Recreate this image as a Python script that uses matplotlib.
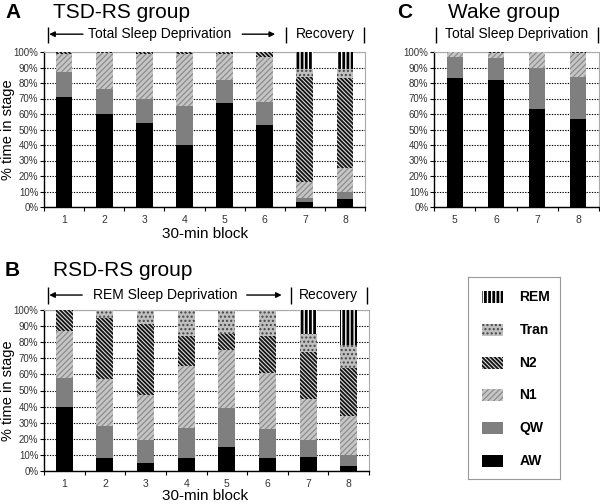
import numpy as np
import matplotlib
matplotlib.use("Agg")
import matplotlib.pyplot as plt
from matplotlib.patches import Rectangle

plt.rcParams['font.family'] = ['Liberation Sans', 'DejaVu Sans']

# ---------------- data (% time in stage) ----------------
blocks_AB = ['1', '2', '3', '4', '5', '6', '7', '8']
blocks_C = ['5', '6', '7', '8']
stages = ['AW', 'QW', 'N1', 'N2', 'Tran', 'REM']

A_AW = [71, 60, 54, 40, 67, 53, 3, 5]
A_QW = [16, 16, 16, 25, 15, 15, 3, 5]
A_N1 = [12, 23.5, 29, 33.5, 16.5, 29, 10, 15]
A_N2 = [1, 0.5, 1, 1.5, 1.5, 3, 68, 58]
A_Tran = [0, 0, 0, 0, 0, 0, 5, 6]
A_REM = [0, 0, 0, 0, 0, 0, 11, 11]

B_AW = [40, 8, 5, 8, 15, 8, 9, 3]
B_QW = [18, 20, 14, 19, 24, 18, 10, 7]
B_N1 = [29, 29, 28, 38, 36, 35, 26, 24]
B_N2 = [13, 38, 44, 19, 10, 23, 29, 30]
B_Tran = [0, 5, 9, 16, 15, 16, 11, 14]
B_REM = [0, 0, 0, 0, 0, 0, 15, 22]

C_AW = [83, 82, 63, 57]
C_QW = [14, 14, 27, 27]
C_N1 = [3, 3.5, 10, 15.5]
C_N2 = [0, 0.5, 0, 0.5]
C_Tran = [0, 0, 0, 0]
C_REM = [0, 0, 0, 0]

# ---------------- styles ----------------
STYLE = {
    'AW':   dict(facecolor='black', edgecolor='black', hatch=None, hlw=1.0),
    'QW':   dict(facecolor='#7f7f7f', edgecolor='#7f7f7f', hatch=None, hlw=1.0),
    'N1':   dict(facecolor='#c6c6c6', edgecolor='#8c8c8c', hatch='//////', hlw=0.9),
    'N2':   dict(facecolor='#d8d8d8', edgecolor='#111111', hatch='\\\\\\\\\\\\\\\\', hlw=1.3),
    'Tran': dict(facecolor='#c0c0c0', edgecolor='#444444', hatch='....', hlw=1.0),
    'REM':  dict(facecolor='white', edgecolor='black', hatch='||||', hlw=2.0),
}


def styled_bar(ax, x, h, bottom, width, stage):
    st = STYLE[stage]
    with plt.rc_context({'hatch.linewidth': st['hlw']}):
        bars = ax.bar(x, h, width, bottom=bottom, facecolor=st['facecolor'],
                      edgecolor=st['edgecolor'], hatch=st['hatch'], linewidth=0,
                      zorder=3)
    for b in bars:
        if hasattr(b, 'set_hatch_linewidth'):
            b.set_hatch_linewidth(st['hlw'])
    return bars


def panel(ax, labels, series, width=0.42):
    n = len(labels)
    x = np.arange(n)
    bottom = np.zeros(n)
    for stage in stages:
        vals = np.array(series[stage], dtype=float)
        styled_bar(ax, x, vals, bottom, width, stage)
        bottom += vals
    ax.set_xlim(-0.5, n - 0.5)
    ax.set_ylim(0, 100)
    ax.set_yticks(np.arange(0, 101, 10))
    ax.set_yticklabels([f"{v}%" for v in range(0, 101, 10)], fontsize=7, color='#333333')
    ax.set_xticks(x)
    ax.set_xticklabels(labels, fontsize=7.5, color='#333333')
    ax.set_xticks(np.arange(-0.5, n, 1.0), minor=True)
    ax.tick_params(axis='x', which='major', length=0, pad=6)
    ax.tick_params(axis='x', which='minor', length=3, direction='out', width=0.8)
    ax.tick_params(axis='y', length=3, direction='out', pad=1, width=0.8)
    ax.yaxis.grid(True, linestyle=(0, (1.2, 1.2)), color='black', linewidth=0.8, zorder=1)
    ax.set_axisbelow(True)
    for s in ['left', 'bottom']:
        ax.spines[s].set_color('black')
        ax.spines[s].set_linewidth(1.0)
    for s in ['top', 'right']:
        ax.spines[s].set_color('#aaaaaa')
        ax.spines[s].set_linewidth(0.8)


def vbar(ax, xd, y0, y1):
    ax.plot([xd, xd], [y0, y1], transform=ax.get_xaxis_transform(), color='black',
            lw=1.0, clip_on=False, solid_capstyle='butt')


def arrow(ax, x_from, x_to, y):
    ax.annotate('', xy=(x_to, y), xytext=(x_from, y),
                xycoords=ax.get_xaxis_transform(), textcoords=ax.get_xaxis_transform(),
                arrowprops=dict(arrowstyle='-|>', color='black', lw=1.0,
                                mutation_scale=8, shrinkA=0, shrinkB=0))


W, H = 600, 504
fig = plt.figure(figsize=(6, 5.04), dpi=100)

axA = fig.add_axes([44 / W, 1 - 207 / H, 321 / W, 155 / H])
axB = fig.add_axes([44 / W, 1 - 471 / H, 325 / W, 161 / H])
axC = fig.add_axes([434 / W, 1 - 207 / H, 165 / W, 155 / H])

panel(axA, blocks_AB, dict(AW=A_AW, QW=A_QW, N1=A_N1, N2=A_N2, Tran=A_Tran, REM=A_REM))
panel(axB, blocks_AB, dict(AW=B_AW, QW=B_QW, N1=B_N1, N2=B_N2, Tran=B_Tran, REM=B_REM))
panel(axC, blocks_C, dict(AW=C_AW, QW=C_QW, N1=C_N1, N2=C_N2, Tran=C_Tran, REM=C_REM), width=0.39)

# axis labels
axA.set_xlabel('30-min block', fontsize=11)
axA.xaxis.set_label_coords((205 - 44) / 321, -(234 - 207) / 155)
axA.xaxis.label.set_va('center')
axB.set_xlabel('30-min block', fontsize=11)
axB.xaxis.set_label_coords((205 - 44) / 325, -(496.5 - 471) / 161)
axB.xaxis.label.set_va('center')
for ax, w in ((axA, 321), (axB, 325)):
    ax.set_ylabel('% time in stage', fontsize=10.5)
    ax.yaxis.set_label_coords(-(44 - 1) / w, 0.5)
    ax.yaxis.label.set_va('top')

# ---- annotations panel A ----
yA = 1.115
vbar(axA, -0.4, 1.06, 1.16)
arrow(axA, 0.47, -0.37, yA)
axA.text(2.39, yA, 'Total Sleep Deprivation', transform=axA.get_xaxis_transform(),
         ha='center', va='center', fontsize=10)
arrow(axA, 4.44, 5.26, yA)
vbar(axA, 5.53, 1.06, 1.16)
axA.text(6.5, yA, 'Recovery', transform=axA.get_xaxis_transform(), ha='center', va='center', fontsize=10)
vbar(axA, 7.48, 1.06, 1.16)

# ---- annotations panel B ----
yB = 1.093
vbar(axB, -0.4, 1.04, 1.145)
arrow(axB, 0.44, -0.37, yB)
axB.text(2.49, yB, 'REM Sleep Deprivation', transform=axB.get_xaxis_transform(),
         ha='center', va='center', fontsize=10)
arrow(axB, 4.49, 5.35, yB)
vbar(axB, 5.57, 1.04, 1.145)
axB.text(6.5, yB, 'Recovery', transform=axB.get_xaxis_transform(), ha='center', va='center', fontsize=10)
vbar(axB, 7.45, 1.04, 1.145)

# ---- annotations panel C ----
vbar(axC, -0.45, 1.06, 1.16)
axC.text(1.5, yA, 'Total Sleep Deprivation', transform=axC.get_xaxis_transform(),
         ha='center', va='center', fontsize=10)
vbar(axC, 3.47, 1.06, 1.16)

# ---- titles ----
fig.text(5 / W, 1 - 12 / H, 'A', fontsize=15, fontweight='bold', va='center')
fig.text(53 / W, 1 - 12 / H, 'TSD-RS group', fontsize=15, va='center')
fig.text(5 / W, 1 - 270 / H, 'B', fontsize=15, fontweight='bold', va='center')
fig.text(53 / W, 1 - 270 / H, 'RSD-RS group', fontsize=15, va='center')
fig.text(397 / W, 1 - 12 / H, 'C', fontsize=15, fontweight='bold', va='center')
fig.text(448 / W, 1 - 12 / H, 'Wake group', fontsize=15, va='center')

# ---- legend box ----
axL = fig.add_axes([468 / W, 1 - 479 / H, 92 / W, 202 / H])
axL.set_xlim(0, 1)
axL.set_ylim(0, 1)
axL.set_xticks([])
axL.set_yticks([])
for s in axL.spines.values():
    s.set_color('#999999')
    s.set_linewidth(0.8)
leg_order = ['REM', 'Tran', 'N2', 'N1', 'QW', 'AW']
for i, stage in enumerate(leg_order):
    yc = 1 - (20 + i * 32.8) / 202
    st = STYLE[stage]
    with plt.rc_context({'hatch.linewidth': st['hlw']}):
        r = Rectangle((0.152, yc - 0.03), 0.23, 0.06, facecolor=st['facecolor'],
                      edgecolor=st['edgecolor'], hatch=st['hatch'], linewidth=0)
    if hasattr(r, 'set_hatch_linewidth'):
        r.set_hatch_linewidth(st['hlw'])
    axL.add_patch(r)
    axL.text(0.56, yc, stage, fontsize=10, fontweight='bold', va='center', ha='left')

fig.savefig('out.png', dpi=100)
